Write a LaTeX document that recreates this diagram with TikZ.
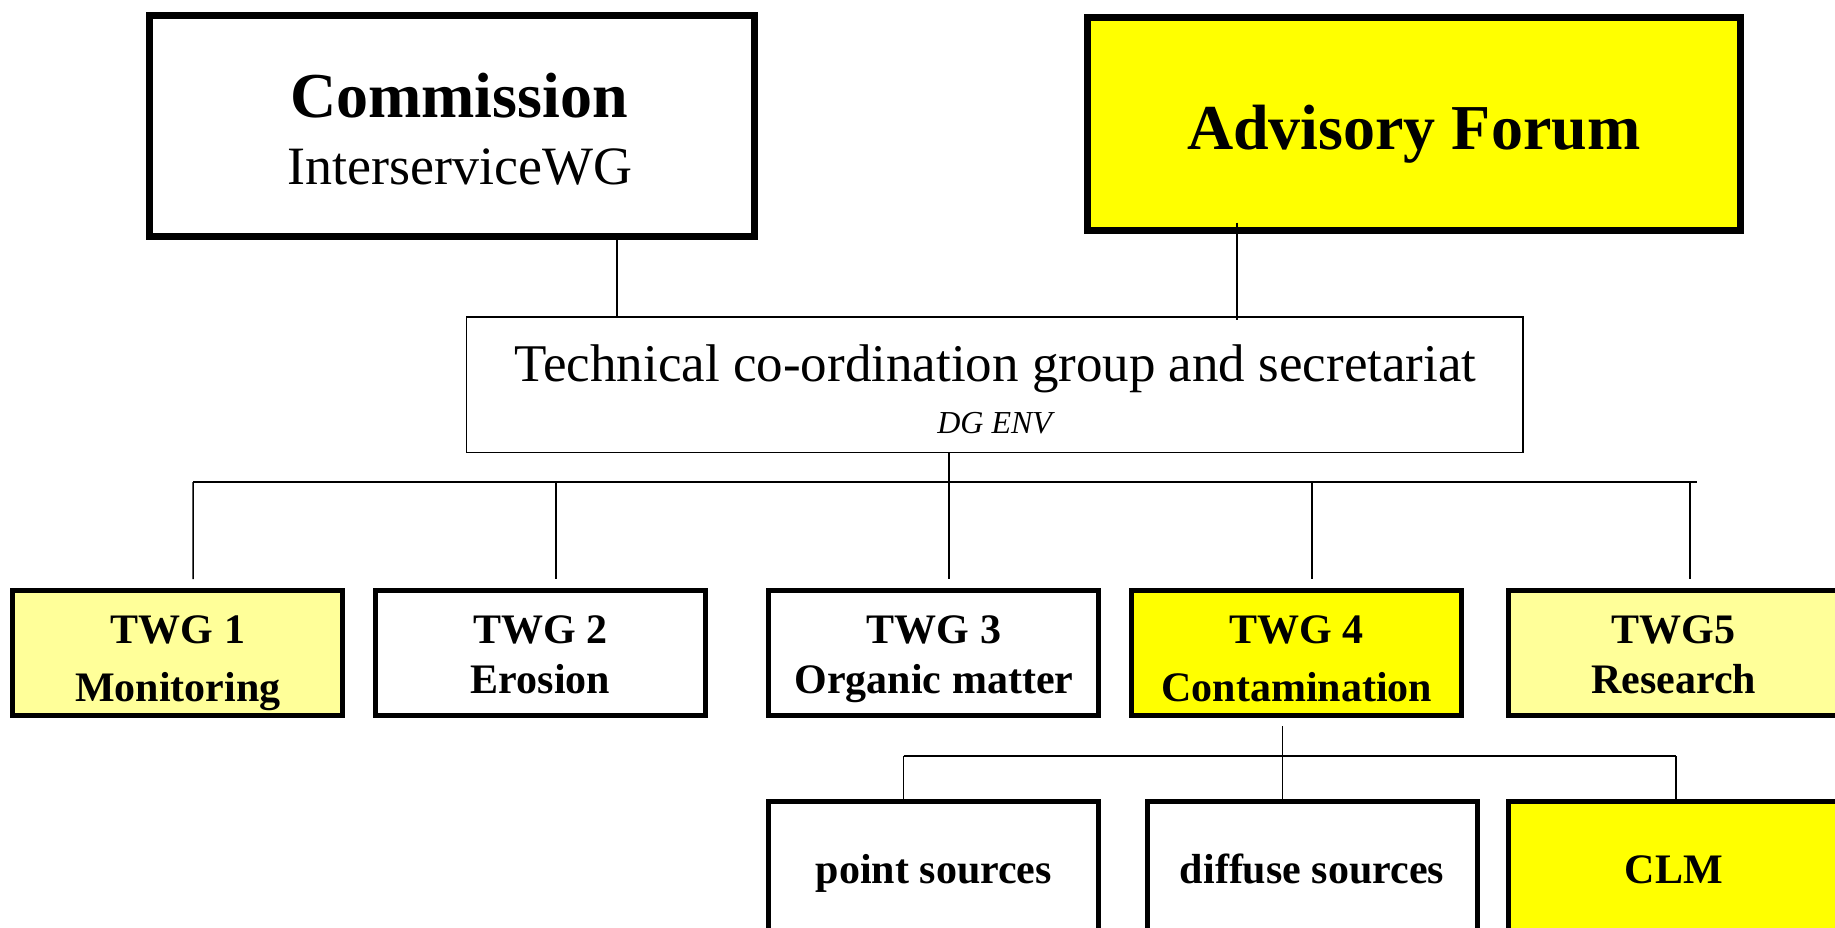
\documentclass[tikz,border=0pt]{standalone}
\usepackage{fontspec}
\setmainfont{Liberation Serif}
\definecolor{lightyel}{HTML}{FFFF99}
\definecolor{yel}{HTML}{FFFF00}
\tikzset{
  box/.style={draw=black, rectangle, inner sep=0pt, outer sep=0pt},
  topbox/.style={box, line width=7pt},
  techbox/.style={box, line width=1.5pt, minimum width=1056.5pt, minimum height=135.5pt, fill=white},
  twgbox/.style={box, line width=5pt, minimum width=330pt, minimum height=125pt},
  subbox/.style={box, line width=5pt, minimum width=330pt, minimum height=133.5pt},
  txt/.style={inner sep=0pt, outer sep=0pt, anchor=base},
  bigbold/.style={txt, font=\fontsize{64}{70}\selectfont\bfseries},
  twgfont/.style={txt, font=\fontsize{42}{48}\selectfont\bfseries},
  conn/.style={line width=1.4pt},
}
\begin{document}
\begin{tikzpicture}[x=1pt, y=-1pt]
\useasboundingbox (0,0) rectangle (1835,927);
\fill[white] (0,0) rectangle (1835,927);

% top boxes
\node[topbox, fill=white, minimum width=605pt, minimum height=221pt] (comm) at (452.3,125.9) {};
\node[topbox, fill=yel, minimum width=653pt, minimum height=213pt] (adv) at (1413.7,124) {};
\node[bigbold] (commT) at (459,117) {Commission};
\node[txt, font=\fontsize{54}{60}\selectfont] (commS) at (460,184) {InterserviceWG};
\node[bigbold] (advT) at (1413.7,149.5) {Advisory Forum};

% technical box
\node[techbox] (tech) at (994.7,384.5) {};
\node[txt, font=\fontsize{53}{60}\selectfont] (techT) at (995.5,381.5) {Technical co-ordination group and secretariat};
\node[txt, font=\fontsize{32}{36}\selectfont\itshape] (techS) at (994.7,433) {DG ENV};

% TWG boxes
\node[twgbox, fill=lightyel] (twg1) at (177.9,652.5) {};
\node[twgbox, fill=white] (twg2) at (540.6,652.5) {};
\node[twgbox, fill=white] (twg3) at (933.9,652.5) {};
\node[twgbox, fill=yel] (twg4) at (1296.7,652.5) {};
\node[twgbox, fill=lightyel] (twg5) at (1673.7,652.5) {};

\node[twgfont] (t1a) at (177.9,643) {TWG 1};
\node[twgfont] (t1b) at (177.9,701) {Monitoring};
\node[twgfont] (t2a) at (540.6,643) {TWG 2};
\node[twgfont] (t2b) at (540.6,693) {Erosion};
\node[twgfont] (t3a) at (933.9,643) {TWG 3};
\node[twgfont] (t3b) at (933.9,693) {Organic matter};
\node[twgfont] (t4a) at (1296.7,643) {TWG 4};
\node[twgfont] (t4b) at (1296.7,701) {Contamination};
\node[twgfont] (t5a) at (1673.7,643) {TWG5};
\node[twgfont] (t5b) at (1673.7,693) {Research};

% sub boxes
\node[subbox, fill=white] (point) at (933.9,868.5) {};
\node[subbox, fill=white] (diffuse) at (1312,868.5) {};
\node[subbox, fill=yel] (clm) at (1673.7,868.5) {};
\node[twgfont] (pT) at (933.9,883.6) {point sources};
\node[twgfont] (dT) at (1312,883.6) {diffuse sources};
\node[twgfont] (cT) at (1673.7,883.6) {CLM};

% connector coordinates
\coordinate (xc) at (616.8,0);
\coordinate (xa) at (1237,0);
\coordinate (busL) at (193.1,482);
\coordinate (busR) at (1697,482);
\coordinate (sbL) at (903.5,756);
\coordinate (sbR) at (1675.9,756);
\coordinate (x4) at (1282.7,0);

% connectors
\draw[conn] (comm.south -| xc) -- (tech.north -| xc);
\draw[conn] ([yshift=8pt]adv.south -| xa) -- ([yshift=-3pt]tech.north -| xa);
\draw[line width=1.8pt] (busL) -- (busR);
\draw[conn] (tech.south -| twg3.north) ++(15.2,0) coordinate (x3) -- ([xshift=15.2pt,yshift=11pt]twg3.north);
\draw[conn] (busL) -- ([xshift=15.2pt,yshift=11pt]twg1.north);
\draw[conn] ([xshift=15.2pt]twg2.north |- busL) -- ([xshift=15.2pt,yshift=11pt]twg2.north);
\draw[conn] ([xshift=15.2pt]twg4.north |- busL) -- ([xshift=15.2pt,yshift=11pt]twg4.north);
\draw[conn] ([xshift=16.3pt]twg5.north |- busL) -- ([xshift=16.3pt,yshift=11pt]twg5.north);

\draw[conn] ([yshift=-11pt]twg4.south -| x4) -- (diffuse.north -| x4);
\draw[conn] (sbL) -- (sbR);
\draw[conn] (sbL) -- (point.north -| sbL);
\draw[conn] (sbR) -- (clm.north -| sbR);
\end{tikzpicture}
\end{document}
